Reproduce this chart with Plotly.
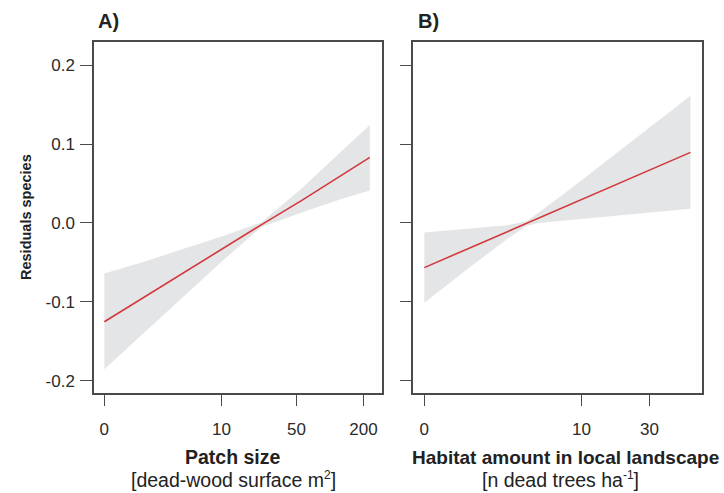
import plotly.graph_objects as go

# Panel A: patch size (dead-wood surface, m2) -> fitted residuals with 95% band
patch_size = [0, 1.25, 4, 10, 24, 55, 125, 228]
patch_fit = [-0.125, -0.094, -0.064, -0.033, -0.002, 0.028, 0.060, 0.083]
patch_lower = [-0.185, -0.139, -0.094, -0.049, -0.005, 0.013, 0.030, 0.041]
patch_upper = [-0.064, -0.049, -0.033, -0.017, 0.001, 0.043, 0.090, 0.124]
patch_ticks = [0, 10, 50, 200]

# Panel B: habitat amount (dead trees per ha) -> fitted residuals with 95% band
habitat = [0, 1, 2.5, 3.7, 4.7, 8, 15, 30, 57]
habitat_fit = [-0.0565, -0.0316, -0.0116, -0.001, 0.0063, 0.0223, 0.0430, 0.0667, 0.0894]
habitat_lower = [-0.101, -0.056, -0.021, -0.004, 0.000, 0.004, 0.008, 0.013, 0.018]
habitat_upper = [-0.012, -0.007, -0.003, 0.002, 0.013, 0.041, 0.078, 0.121, 0.161]
habitat_ticks = [0, 10, 30]

y_ticks = [-0.2, -0.1, 0.0, 0.1, 0.2]
y_ticktext = ["-0.2", "-0.1", "0.0", "0.1", "0.2"]

W, H = 724, 493
FONT = "Liberation Sans, Arial, sans-serif"
FRAME = "#4a4a4a"
BAND = "#e4e5e7"
LINE = "#d2383c"


def band_and_line(fig, xs, lo, hi, fit, xref, yref):
    xp = [v + 1 for v in xs]  # log10(x + 1) scale
    fig.add_trace(go.Scatter(
        x=xp + xp[::-1], y=hi + lo[::-1], fill="toself", fillcolor=BAND,
        line=dict(width=0), mode="lines", hoverinfo="skip", showlegend=False,
        xaxis=xref, yaxis=yref))
    fig.add_trace(go.Scatter(
        x=xp, y=fit, mode="lines", line=dict(color=LINE, width=1.6),
        showlegend=False, xaxis=xref, yaxis=yref))


fig = go.Figure()
band_and_line(fig, patch_size, patch_lower, patch_upper, patch_fit, "x", "y")
band_and_line(fig, habitat, habitat_lower, habitat_upper, habitat_fit, "x2", "y2")

frame = dict(showline=True, mirror=True, linecolor=FRAME, linewidth=1.5,
             ticks="outside", tickcolor=FRAME, tickwidth=1.3, ticklen=11,
             showgrid=False, zeroline=False,
             tickfont=dict(family=FONT, size=17, color="#2a2a2a"))

y_dom = [1 - 393.3 / H, 1 - 41.7 / H]
y_rng = [-0.2156, 0.2295]

fig.update_layout(
    width=W, height=H, margin=dict(l=0, r=0, t=0, b=0),
    paper_bgcolor="white", plot_bgcolor="white",
    xaxis=dict(frame, type="log", domain=[94 / W, 382 / W],
               range=[-0.092, 2.468], anchor="y", ticklabelstandoff=9,
               tickvals=[v + 1 for v in patch_ticks],
               ticktext=[str(v) for v in patch_ticks]),
    xaxis2=dict(frame, type="log", domain=[413.3 / W, 701.7 / W],
                range=[-0.073, 1.838], anchor="y2", ticklabelstandoff=9,
                tickvals=[v + 1 for v in habitat_ticks],
                ticktext=[str(v) for v in habitat_ticks]),
    yaxis=dict(frame, domain=y_dom, range=y_rng, anchor="x",
               tickvals=y_ticks, ticktext=y_ticktext, ticklen=12,
               ticklabelstandoff=2),
    yaxis2=dict(frame, domain=y_dom, range=y_rng, anchor="x2",
                tickvals=y_ticks, showticklabels=False, ticklen=12),
)

def label(text, x, y, size, **kw):
    fig.add_annotation(text=text, x=x / W, y=1 - y / H, xref="paper", yref="paper",
                       showarrow=False, font=dict(family=FONT, size=size, color="#222"),
                       **kw)

SUP = "<sup><span style='font-size:12px'>{}</span></sup>"

label("<b>A)</b>", 96, 21, 20, xanchor="left", yanchor="middle")
label("<b>B)</b>", 416, 21, 20, xanchor="left", yanchor="middle")
label("<b>Residuals species</b>", 26, 217, 14.5, textangle=-90,
      xanchor="center", yanchor="middle")
label("<b>Patch size</b>", 233, 457, 19.5, xanchor="center", yanchor="middle")
label("[dead-wood surface m" + SUP.format("2") + "]", 233, 479, 19.5,
      xanchor="center", yanchor="middle")
label("<b>Habitat amount in local landscape</b>", 565, 457, 19,
      xanchor="center", yanchor="middle")
label("[n dead trees ha" + SUP.format("-1") + "]", 560, 479, 19.5,
      xanchor="center", yanchor="middle")

fig.write_html("out.html")
